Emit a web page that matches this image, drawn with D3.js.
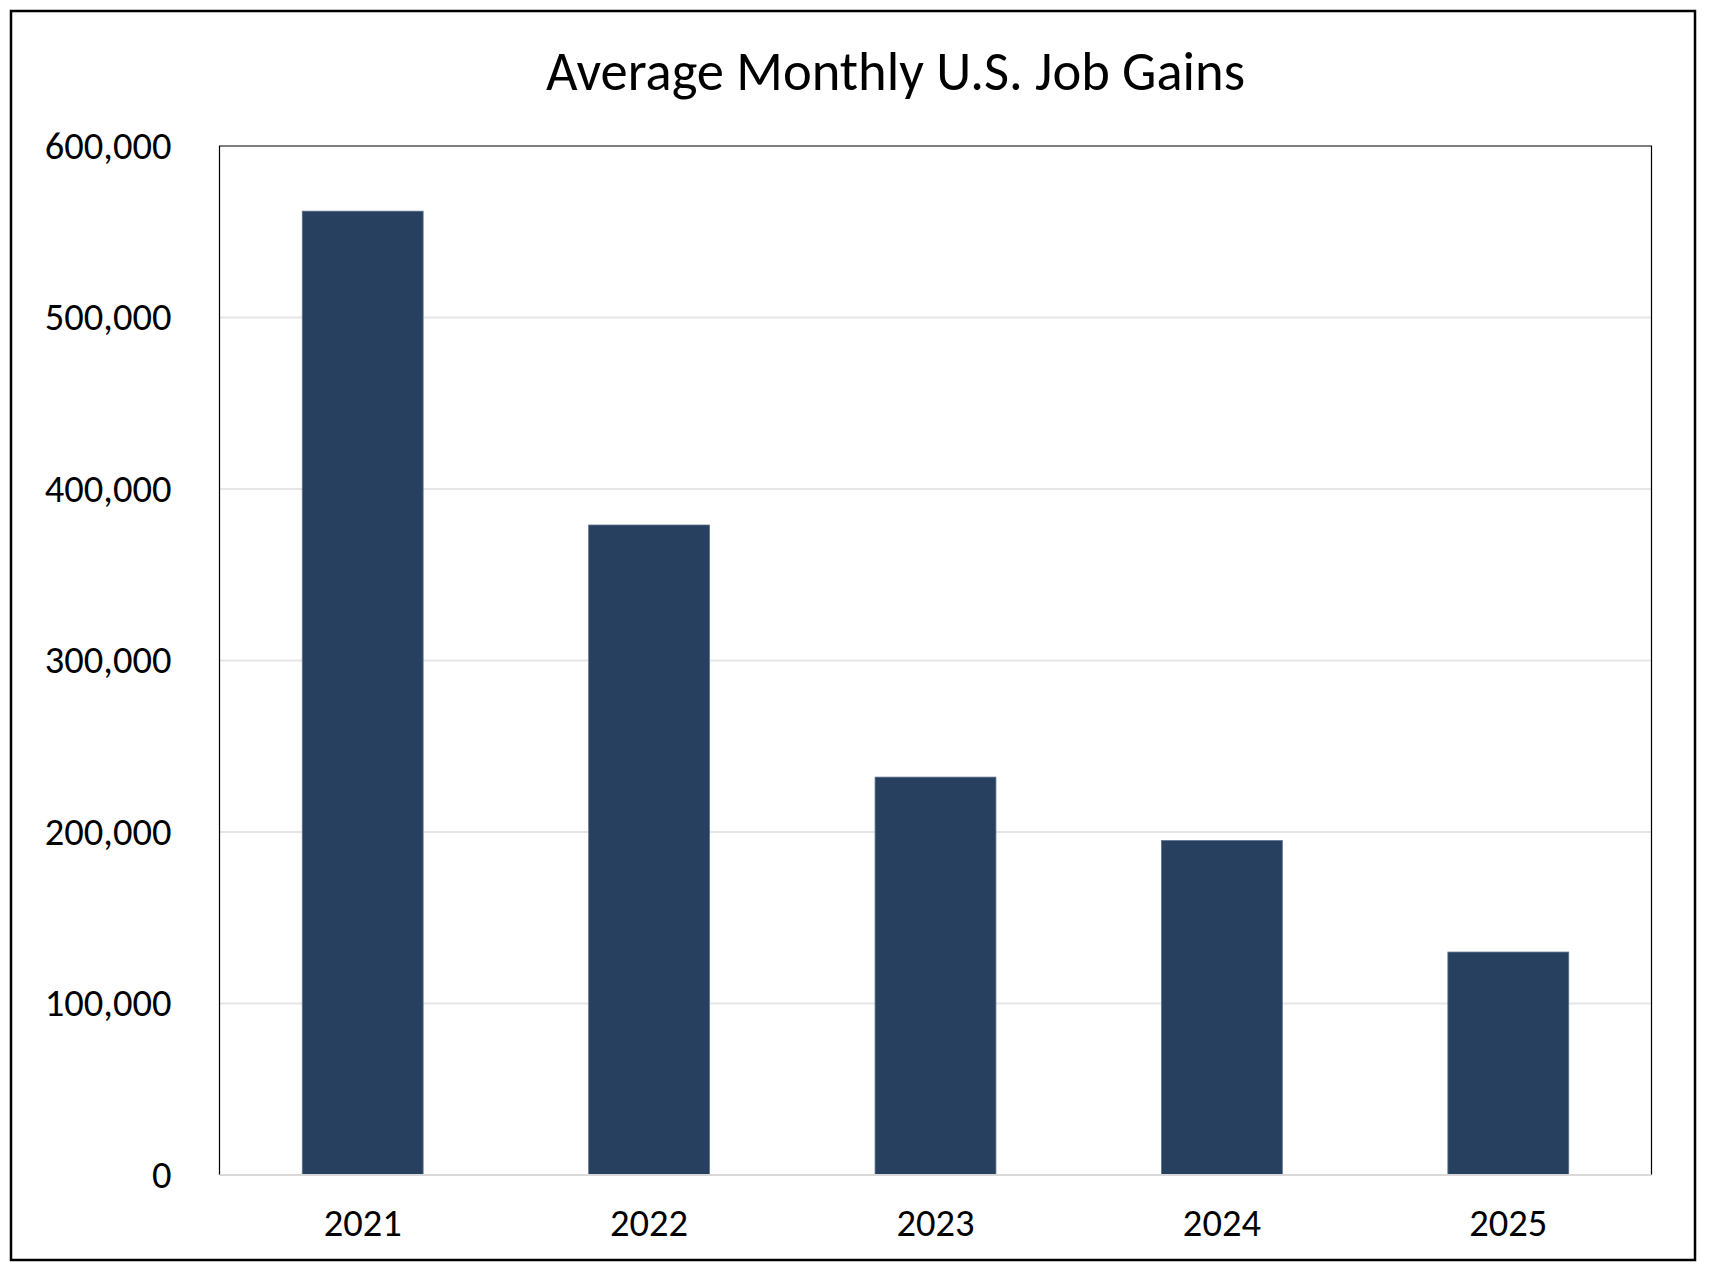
<!DOCTYPE html>
<html>
<head>
<meta charset="utf-8">
<script src="https://cdn.jsdelivr.net/npm/d3@7"></script>
<style>
  html, body { margin: 0; padding: 0; background: #ffffff; }
  svg { display: block; }
  text { font-family: Carlito, Calibri, Lato, "Open Sans", sans-serif; fill: #000; }
</style>
</head>
<body>
<svg id="chart" width="1710" height="1272"></svg>
<script>
const titleText = "Average Monthly U.S. Job Gains";
const years = ["2021", "2022", "2023", "2024", "2025"];
const gains = [562000, 379000, 232000, 195000, 130000];
const yTicks = [0, 100000, 200000, 300000, 400000, 500000, 600000];

const W = 1710, H = 1272;
const plot = { left: 219.5, top: 146, right: 1651.5, bottom: 1175 };

const svg = d3.select("#chart");

// outer frame
svg.append("rect")
  .attr("x", 11).attr("y", 11)
  .attr("width", 1684).attr("height", 1249)
  .attr("fill", "#fff").attr("stroke", "#000").attr("stroke-width", 2.5);

const x = d3.scaleBand()
  .domain(years)
  .range([plot.left, plot.right])
  .paddingInner(0.578)
  .paddingOuter(0.289);

const y = d3.scaleLinear()
  .domain([0, 600000])
  .range([plot.bottom, plot.top]);

// gridlines
svg.append("g")
  .selectAll("line")
  .data(yTicks.filter(d => d > 0 && d < 600000))
  .join("line")
  .attr("x1", plot.left).attr("x2", plot.right)
  .attr("y1", d => y(d)).attr("y2", d => y(d))
  .attr("stroke", "#e6e6e6").attr("stroke-width", 2);

// bars
svg.append("g")
  .selectAll("rect")
  .data(years.map((yr, i) => ({ yr, v: gains[i] })))
  .join("rect")
  .attr("x", d => x(d.yr))
  .attr("width", x.bandwidth())
  .attr("y", d => y(d.v))
  .attr("height", d => y(0) - y(d.v))
  .attr("fill", "#27405f")
  .attr("stroke", "#5c708c")
  .attr("stroke-width", 0.8);

// plot area border (left, top, right black)
svg.append("path")
  .attr("d", `M${plot.left},${plot.bottom}V${plot.top}H${plot.right}V${plot.bottom}`)
  .attr("fill", "none").attr("stroke", "#000").attr("stroke-width", 1.2);

// x axis baseline (gray)
svg.append("line")
  .attr("x1", plot.left).attr("x2", plot.right)
  .attr("y1", y(0)).attr("y2", y(0))
  .attr("stroke", "#d9d9d9").attr("stroke-width", 2);

// y axis labels
const yAxis = d3.axisLeft(y)
  .tickValues(yTicks)
  .tickFormat(d3.format(","))
  .tickSize(0)
  .tickPadding(48);
const yg = svg.append("g").attr("transform", `translate(${plot.left},0)`).call(yAxis);
yg.select(".domain").remove();
yg.selectAll("text")
  .style("font-family", "Carlito, Calibri, Lato, 'Open Sans', sans-serif")
  .style("font-size", "38.5px")
  .attr("fill", "#000");

// x axis labels
const xAxis = d3.axisBottom(x).tickSize(0).tickPadding(34);
const xg = svg.append("g").attr("transform", `translate(0,${plot.bottom})`).call(xAxis);
xg.select(".domain").remove();
xg.selectAll("text")
  .style("font-family", "Carlito, Calibri, Lato, 'Open Sans', sans-serif")
  .style("font-size", "38.5px")
  .attr("fill", "#000");

// title
svg.append("text")
  .attr("x", 895.5).attr("y", 90)
  .attr("text-anchor", "middle")
  .style("font-size", "54.5px")
  .text(titleText);
</script>
</body>
</html>
